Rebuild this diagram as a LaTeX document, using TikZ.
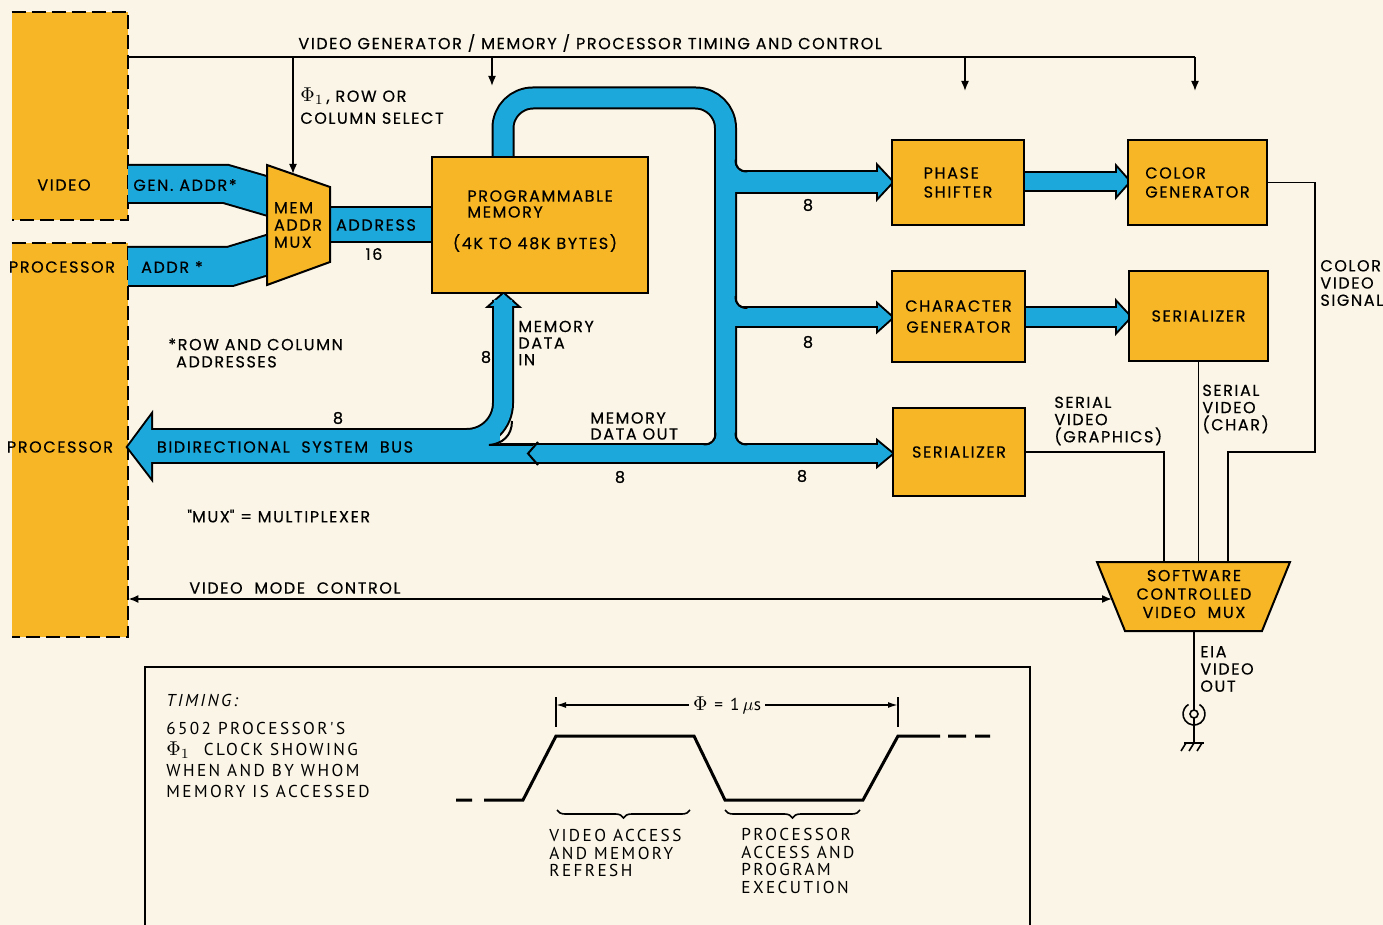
\documentclass[tikz,border=0pt]{standalone}
\usepackage{fontspec}
\setmainfont{Poppins}[LetterSpace=10, FakeBold=0.4]
\newfontfamily\tmfont{PT Sans}[LetterSpace=14]
\usetikzlibrary{arrows.meta,decorations.pathreplacing}
\definecolor{Paper}{RGB}{250,245,230}
\definecolor{Chip}{RGB}{247,182,38}
\definecolor{Bus}{RGB}{29,168,219}
\newcommand{\lbl}{\fontsize{8}{8.6}\selectfont}
\newcommand{\tlbl}{\tmfont\fontsize{8.6}{10.5}\selectfont}
\newcommand{\tlbls}{\tmfont\fontsize{8.6}{8.8}\selectfont}
\newcommand{\bigphi}{{\fontsize{10}{10}\selectfont$\Phi_1$}}
\tikzset{
  chip/.style={draw, line width=1pt, fill=Chip, inner sep=0pt, align=center, font=\lbl},
  zone/.style={fill=Chip, inner sep=0pt},
  zoneedge/.style={line width=1pt, dash pattern=on 7pt off 3pt},
  txt/.style={inner sep=0pt, align=left, font=\lbl},
  busedge/.style={draw=black, line width=#1*0.5pt+2pt},
  busfill/.style={draw=Bus, line width=#1*0.5pt},
  headedge/.style={draw=black, fill=black, line width=2pt},
  headfill/.style={fill=Bus},
  sig/.style={line width=0.8pt},
  ctl/.style={line width=0.8pt, -{Latex[length=5pt,width=4pt]}},
}
\newcommand{\BusLayer}[2]{% band style, head style
  % addresses into and out of the mux
  \draw[#1=36] (128,184) -- (226,184) -- (274,198);
  \draw[#1=37] (128,266.5) -- (230,266.5) -- (274,253);
  \draw[#1=33] (325,224.5) -- (434,224.5);
  % data out of memory, round the loop and down the trunk
  \draw[#1=19, rounded corners=15] (503,160) |- (725.5,98) -- (725.5,453.5);
  \draw[#1=20] (725,182) -- (880,182);
  \path[#2] (878,167) -- (892,182) -- (878,197) -- cycle;
  \draw[#1=18] (725,317.5) -- (880,317.5);
  \path[#2] (878,305) -- (892,317.5) -- (878,330) -- cycle;
  \draw[#1=17] (492,453.5) -- (880,453.5);
  \path[#2] (878,442) -- (892,453.5) -- (878,465) -- cycle;
  % data in and system bus
  \draw[#1=18, rounded corners=18] (503,300) |- (470,439);
  \path[#2] (490,306) -- (503.5,294) -- (517,306) -- cycle;
  \draw[#1=32] (148,446) -- (500,446);
  \path[#2] (128,447) -- (151,416) -- (151,477) -- cycle;
  % between the video blocks
  \draw[#1=17] (1020,181.5) -- (1119,181.5);
  \path[#2] (1117,168) -- (1129,181.5) -- (1117,195) -- cycle;
  \draw[#1=18] (1020,317) -- (1119,317);
  \path[#2] (1117,303) -- (1130,317) -- (1117,331) -- cycle;
}
\newcommand{\Fillet}[3]{% x y side: rounds a branch off the trunk
  \fill[Bus] ({#1-(#3)},{#2-12}) .. controls ({#1-(#3)},{#2-3}) and ({#1+(#3)*3},{#2+1}) .. ({#1+(#3)*12},{#2+1}) -- ({#1-(#3)},{#2+1}) -- cycle;
  \draw[line width=1pt] (#1,{#2-12}) .. controls (#1,{#2-4}) and ({#1+(#3)*4},#2) .. ({#1+(#3)*12},#2);
}
\begin{document}
\begin{tikzpicture}[x=0.5pt,y=-0.5pt]
\useasboundingbox (0,0) rectangle (1383,925);
\fill[Paper] (0,0) rectangle (1383,925);
% video and processor sections
\node[zone, minimum width=58pt, minimum height=104pt] (vid) at (70,116) {};
\node[zone, minimum width=58pt, minimum height=197pt] (proc) at (70,440) {};
\draw[zoneedge] (vid.north west) -- (vid.north east) -- (vid.south east) -- (vid.south west);
\draw[zoneedge] (proc.north west) -- (proc.north east) -- (proc.south east) -- (proc.south west);
\node[txt] (vidl) at (64,185) {VIDEO};
\node[txt] (procl) at (62,267) {PROCESSOR};
\node[txt] (procm) at (60,447) {PROCESSOR};
% buses: outlines first, then fills
\BusLayer{busedge}{headedge}
\BusLayer{busfill}{headfill}
\Fillet{735.5}{171.5}{1}
\Fillet{735.5}{308}{1}
\Fillet{735.5}{444.5}{1}
\Fillet{715.5}{444.5}{-1}
\draw[line width=1pt] (512,421) .. controls (512,436) and (502,444) .. (489,445) -- (533,445);
\draw[line width=1pt] (538,442) -- (528,453.5) -- (538,465);
% blocks
\node[chip, minimum width=108pt, minimum height=68pt] (mem) at (540,225) {};
\node[chip, minimum width=66pt, minimum height=42.5pt, align=left, font=\fontsize{8}{9.5}\selectfont] (phase) at (958,182.5) {PHASE\\SHIFTER};
\node[chip, minimum width=69.5pt, minimum height=42.5pt, align=left, font=\fontsize{8}{9.5}\selectfont] (color) at (1197.5,182.5) {COLOR\\GENERATOR};
\node[chip, minimum width=66.5pt, minimum height=45.5pt, font=\fontsize{8}{10.5}\selectfont] (chargen) at (958.5,316.5) {CHARACTER\\GENERATOR};
\node[chip, minimum width=69.5pt, minimum height=45pt] (serc) at (1198.5,316) {SERIALIZER};
\node[chip, minimum width=66pt, minimum height=44pt] (serg) at (959,452) {SERIALIZER};
\draw[line width=1pt, fill=Chip] (267,165) -- (330,187) -- (330,262) -- (267,285) -- cycle;
\node[txt] (mmux) at (298,225) {MEM\\ADDR\\MUX};
\draw[line width=1pt, fill=Chip] (1097,562) -- (1290,562) -- (1262,631) -- (1125,631) -- cycle;
\node[txt, align=center, font=\fontsize{8}{9.2}\selectfont] (vmux) at (1194,594) {SOFTWARE\\CONTROLLED\\VIDEO\ \ MUX};
\coordinate (mmuxtop) at (293,174);
\coordinate (vmuxleft) at (1112,599);
\coordinate (vmuxbot) at (1194,631);
% timing and control
\draw[sig] (vid.north east |- 0,57) -- (1195,57);
\draw[ctl] (293,57) -- (mmuxtop);
\draw[ctl] (492,57) -- (492,86);
\draw[ctl] (965,57) -- (965,91);
\draw[ctl] (1195,57) -- (1195,91);
\node[txt, anchor=west] (tctl) at (298,43) {VIDEO GENERATOR / MEMORY / PROCESSOR TIMING AND CONTROL};
\node[txt, anchor=west, font=\fontsize{8}{11}\selectfont] (phisel) at (300,106) {\bigphi\,,\ ROW OR\\COLUMN SELECT};
% video outputs
\draw[sig] (color.east) -| (1315,452) -| (1228,562);
\draw[sig] (serc.south) -- ++(0,201);
\draw[sig] (serg.east) -| (1164,562);
\draw[sig, {Latex[length=5pt,width=4pt]}-{Latex[length=5pt,width=4pt]}] (proc.east |- 0,599) -- (vmuxleft);
% video out connector
\draw[sig] (vmuxbot) -- (1194,710);
\draw[sig] (1194,714) circle[radius=4];
\draw[sig] (1199.5,704.5) arc[start angle=-60, end angle=240, radius=11];
\draw[sig] (1194,718) -- (1194,743);
\draw[sig] (1184,743) -- (1204,743);
\draw[sig] (1186,743) -- (1181,751) (1194,743) -- (1189,751) (1202,743) -- (1197,751);
% labels
\node[txt] (genl) at (185,185) {GEN. ADDR*};
\node[txt] (addrl) at (172,267) {ADDR *};
\node[txt] (adrl) at (376,225) {ADDRESS};
\node[txt] (w16) at (374,254) {16};
\node[txt, anchor=west, font=\fontsize{8}{8}\selectfont] (meml) at (467,204) {PROGRAMMABLE\\MEMORY};
\node[txt] (memsz) at (535,243) {(4K TO 48K BYTES)};
\node[txt] (w8a) at (338,418) {8};
\node[txt] (w8b) at (486,357) {8};
\node[txt] (w8c) at (808,205) {8};
\node[txt] (w8d) at (808,342) {8};
\node[txt] (w8e) at (620,477) {8};
\node[txt] (w8f) at (802,476) {8};
\node[txt, anchor=west, font=\fontsize{8}{8.3}\selectfont] (dinl) at (518,343) {MEMORY\\DATA\\IN};
\node[txt, anchor=west, font=\fontsize{8}{8}\selectfont] (doutl) at (590,426) {MEMORY\\DATA OUT};
\node[txt] (bsbl) at (285,447) {BIDIRECTIONAL\ \ SYSTEM\ \ BUS};
\node[txt, anchor=west] (rcl) at (168,353) {*ROW AND COLUMN\\\hphantom{*}ADDRESSES};
\node[txt, anchor=west] (muxl) at (187,516) {\textquotedbl MUX\textquotedbl\ = MULTIPLEXER};
\node[txt, anchor=west] (vmcl) at (189,588) {VIDEO\ \ MODE\ \ CONTROL};
\node[txt, anchor=west] (cvsl) at (1320,283) {COLOR\\VIDEO\\SIGNAL};
\node[txt, anchor=west] (svcl) at (1202,409) {SERIAL\\VIDEO\\(CHAR)};
\node[txt, anchor=west] (svgl) at (1054,421) {SERIAL\\VIDEO\\(GRAPHICS)};
\node[txt, anchor=west] (eial) at (1200,669) {EIA\\VIDEO\\OUT};
% timing inset
\draw[line width=1pt] (145,940) |- (1030,667) -- (1030,940);
\node[txt, anchor=west, font=\tlbl\itshape] (tim) at (166,700) {TIMING:};
\node[txt, anchor=north west, font=\tlbl] (timtxt) at (166,722) {6502 PROCESSOR'S\\\bigphi\ \ CLOCK SHOWING\\WHEN AND BY WHOM\\MEMORY IS ACCESSED};
\draw[line width=1.5pt] (456,800) -- (472,800) (484,800) -- (523,800) -- (556,736) -- (694,736) -- (725,800) -- (863,800) -- (898,736) -- (940,736) (948,736) -- (966,736) (975,736) -- (990,736);
\coordinate (pl) at (556,705);
\coordinate (pr) at (898,705);
\draw[sig] (pl |- 0,697) -- (pl |- 0,727) (pr |- 0,697) -- (pr |- 0,727);
\draw[sig, {Latex[length=5pt,width=3pt]}-{Latex[length=5pt,width=3pt]}] (pl) -- node[fill=Paper, inner sep=2pt, font=\tlbl] (per) {{\fontsize{10}{10}\selectfont$\Phi$} = 1$\,\mu$s} (pr);
\draw[sig, decorate, decoration={brace, mirror, amplitude=4pt}] (557,810) -- (690,810);
\draw[sig, decorate, decoration={brace, mirror, amplitude=4pt}] (725,810) -- (860,810);
\node[txt, anchor=north west, font=\tlbls] (vacc) at (549,829) {VIDEO ACCESS\\AND MEMORY\\REFRESH};
\node[txt, anchor=north west, font=\tlbls] (pacc) at (741,828) {PROCESSOR\\ACCESS AND\\PROGRAM\\EXECUTION};
\end{tikzpicture}
\end{document}
